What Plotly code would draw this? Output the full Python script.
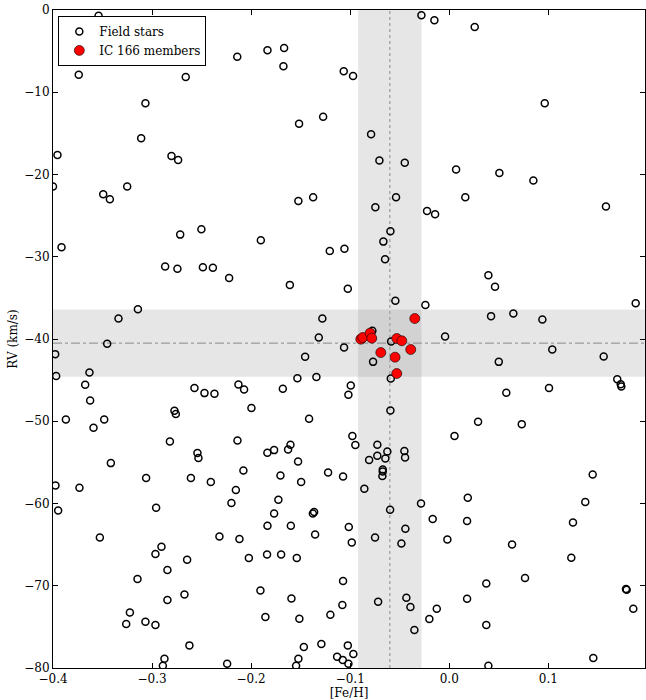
import plotly.graph_objects as go

# Field stars: [Fe/H] and radial velocity (km/s)
field_feh = [
    -0.354, -0.3365, -0.374, -0.266, -0.214, -0.3067, -0.311, -0.3955, -0.2804, -0.2737,
    -0.400, -0.3493, -0.3426, -0.3251, -0.2502, -0.2716, -0.3914, -0.2868, -0.2744, -0.2487,
    -0.2386, -0.2222, -0.3143, -0.3339, -0.3453,
    -0.0281, -0.0150, -0.1835, -0.1667, -0.1674, -0.1065, -0.0971, -0.1273, -0.1516, -0.0789,
    -0.0705, -0.0449, 0.0069, -0.1523, -0.1374, -0.0537, -0.0746, -0.0224, -0.0143, -0.0594,
    -0.0665, -0.0648, -0.1902, -0.1206, -0.1058, -0.1609, -0.1024, -0.0544, -0.0241, -0.1281,
    -0.1317, -0.0042, -0.0776, -0.0587,
    0.0257, 0.0964, 0.0506, 0.0849, 0.0162, 0.1582, 0.0395, 0.0462, 0.1882, 0.0422,
    0.0647, 0.0940,
    -0.3978, -0.3968, -0.3632, -0.3675, -0.3625, -0.3870, -0.3483, -0.3591, -0.3416, -0.3975,
    -0.3733, -0.3948, -0.3527, -0.3060, -0.2959, -0.2905, -0.2966, -0.2845, -0.3147, -0.2845,
    -0.3224, -0.3261, -0.3067, -0.2966, -0.2875, -0.2891, -0.2623, -0.2242, -0.2673, -0.2646,
    -0.2820, -0.2774, -0.2760, -0.2572, -0.2471, -0.2370, -0.2542, -0.2532, -0.2608, -0.2407,
    -0.2128, -0.2071, -0.1997, -0.2138, -0.2078, -0.2154, -0.2199, -0.2320, -0.2118, -0.2023,
    -0.1062, -0.1455, -0.0769, -0.1533, -0.1341, -0.0590, -0.1680, -0.0994, -0.1018, -0.1415,
    -0.0594, -0.0978, -0.0948, 0.0053, -0.1603, -0.1627, -0.1768, -0.1836, -0.1526, -0.1704,
    -0.1495, -0.1223, -0.1072, -0.0726, -0.0625, -0.0809, -0.0726, -0.0645, -0.0671, -0.0671,
    -0.0675, -0.0453, -0.0446, -0.0857, -0.1725, -0.1768, -0.1377, -0.1364, -0.0597, -0.0285,
    -0.0167, -0.1835, -0.1599, -0.1014, -0.1354, -0.0984, -0.0749, -0.0443, -0.0483, -0.0019,
    -0.1839, -0.1697, -0.1539, -0.1072, -0.1906, -0.1593, -0.1079, -0.0718, -0.0433, -0.0392,
    -0.0126, -0.0201, -0.0352, -0.1856, -0.1513, -0.1200, -0.1468, -0.1291, -0.1024, -0.0968,
    -0.1132, -0.1075, -0.1018, -0.1523, -0.1546,
    0.1040, 0.1559, 0.0500, 0.1696, 0.1731, 0.1737, 0.0576, 0.1007, 0.0291, 0.0732,
    0.1448, 0.0187, 0.1373, 0.0180, 0.1249, 0.0634, 0.1232, 0.0374, 0.0765, 0.1784,
    0.1791, 0.0180, 0.1858, 0.0374, 0.1454, 0.0395,
]
field_rv = [
    -0.69, -5.19, -7.86, -8.14, -5.68, -11.34, -15.59, -17.62, -17.74, -18.23,
    -21.47, -22.40, -23.00, -21.47, -26.65, -27.31, -28.84, -31.19, -31.47, -31.27,
    -31.35, -32.57, -36.37, -37.51, -40.59,
    -0.64, -1.25, -4.90, -4.62, -6.84, -7.45, -8.02, -12.97, -13.82, -15.11,
    -18.31, -18.56, -19.38, -23.21, -22.76, -22.76, -23.98, -24.43, -24.83, -26.89,
    -28.16, -30.30, -27.99, -29.29, -29.04, -33.42, -33.90, -35.36, -35.88, -37.51,
    -39.82, -39.71, -39.01, -40.31,
    -2.07, -11.34, -19.81, -20.74, -22.76, -23.90, -32.24, -33.66, -35.64, -37.22,
    -36.91, -37.64,
    -41.84, -44.51, -44.08, -45.57, -47.48, -49.79, -49.79, -50.80, -55.09, -57.81,
    -58.09, -60.85, -64.13, -56.91, -60.52, -65.26, -66.14, -68.09, -69.18, -71.73,
    -73.24, -74.65, -74.37, -74.77, -78.87, -79.72, -77.25, -79.48, -71.05, -66.84,
    -52.46, -48.73, -49.13, -45.97, -46.58, -46.66, -53.87, -54.48, -56.91, -57.39,
    -45.53, -46.14, -48.40, -52.34, -55.99, -58.37, -59.95, -64.01, -64.32, -66.63,
    -41.04, -42.17, -42.78, -44.76, -44.63, -44.80, -46.06, -45.66, -46.79, -49.71,
    -48.69, -51.80, -52.90, -51.80, -52.86, -53.43, -53.51, -53.83, -54.89, -56.59,
    -57.39, -56.23, -56.71, -52.86, -53.68, -54.72, -54.20, -54.53, -55.86, -56.11,
    -56.67, -53.63, -54.41, -58.21, -59.55, -61.21, -61.21, -61.04, -60.76, -59.99,
    -61.89, -62.71, -62.71, -62.86, -63.76, -64.73, -64.13, -63.07, -64.86, -64.37,
    -66.19, -66.19, -66.63, -69.43, -70.57, -71.54, -72.34, -71.94, -71.45, -72.58,
    -72.79, -74.04, -75.38, -73.80, -74.01, -73.52, -77.45, -77.08, -77.25, -78.30,
    -78.62, -79.02, -79.47, -78.87, -79.72,
    -41.28, -42.13, -42.78, -44.88, -45.49, -45.78, -46.54, -45.97, -50.07, -50.35,
    -56.47, -59.30, -59.82, -62.13, -62.30, -64.98, -66.59, -69.72, -69.06, -70.40,
    -70.48, -71.58, -72.79, -74.77, -78.79, -79.72,
]

# IC 166 members
member_feh = [-0.0893, -0.0873, -0.0799, -0.0782, -0.0530, -0.0479, -0.0691, -0.0547, -0.0389, -0.0530, -0.0348]
member_rv = [-40.02, -39.82, -39.29, -39.90, -39.94, -40.22, -41.65, -42.21, -41.28, -44.20, -37.51]

# cluster mean and spread
feh_mean, feh_sig = -0.060, 0.032
rv_mean, rv_sig = -40.5, 4.1

FONT = "'DejaVu Serif', serif"
BAND = "rgba(128,128,128,0.2)"

fig = go.Figure()

fig.add_trace(go.Scatter(
    x=field_feh, y=field_rv,
    mode="markers",
    name="Field stars",
    marker=dict(symbol="circle-open", size=7, color="black", line=dict(width=1.5)),
))
fig.add_trace(go.Scatter(
    x=member_feh, y=member_rv,
    mode="markers",
    name="IC 166 members",
    marker=dict(symbol="circle", size=10, color="#ff0000", line=dict(color="black", width=0.6)),
))

# shaded bands and mean lines
fig.add_shape(type="rect", xref="x", yref="paper", x0=feh_mean - feh_sig, x1=feh_mean + feh_sig,
              y0=0, y1=1, fillcolor=BAND, line=dict(width=0), layer="below")
fig.add_shape(type="rect", xref="paper", yref="y", x0=0, x1=1, y0=rv_mean - rv_sig, y1=rv_mean + rv_sig,
              fillcolor=BAND, line=dict(width=0), layer="below")
fig.add_shape(type="line", xref="x", yref="paper", x0=feh_mean, x1=feh_mean, y0=0, y1=1,
              line=dict(color="#aaaaaa", width=1.5, dash="dot"), layer="below")
fig.add_shape(type="line", xref="paper", yref="y", x0=0, x1=1, y0=rv_mean, y1=rv_mean,
              line=dict(color="#888888", width=1, dash="dashdot"), layer="below")

axis_common = dict(
    showgrid=False,
    zeroline=False,
    showline=True,
    linecolor="black",
    linewidth=1,
    mirror="ticks",
    ticks="inside",
    ticklen=5,
    tickcolor="black",
    tickfont=dict(family=FONT, size=12, color="black"),
)

fig.update_layout(
    width=646,
    height=700,
    plot_bgcolor="white",
    paper_bgcolor="white",
    font=dict(family=FONT, size=12, color="black"),
    margin=dict(l=53, r=1, t=10, b=32),
    showlegend=True,
    legend=dict(
        x=0.009, y=0.991, xanchor="left", yanchor="top",
        bgcolor="white", bordercolor="black", borderwidth=1,
        font=dict(family=FONT, size=12, color="black"),
        tracegroupgap=0, itemwidth=30,
    ),
    xaxis=dict(
        range=[-0.4, 0.1976],
        tick0=-0.4, dtick=0.1, tickformat=".1f",
        title=dict(text="[Fe/H]", font=dict(family=FONT, size=12)),
        automargin=False,
        **axis_common,
    ),
    yaxis=dict(
        range=[-80, 0],
        tick0=0, dtick=10,
        title=dict(text="RV (km/s)", standoff=4, font=dict(family=FONT, size=12)),
        automargin=True,
        **axis_common,
    ),
)

# drop the default page margin so the figure fills the window exactly
fig.write_html(
    "out.html",
    config={"displayModeBar": False},
    post_script="document.body.style.margin = '0';",
)
